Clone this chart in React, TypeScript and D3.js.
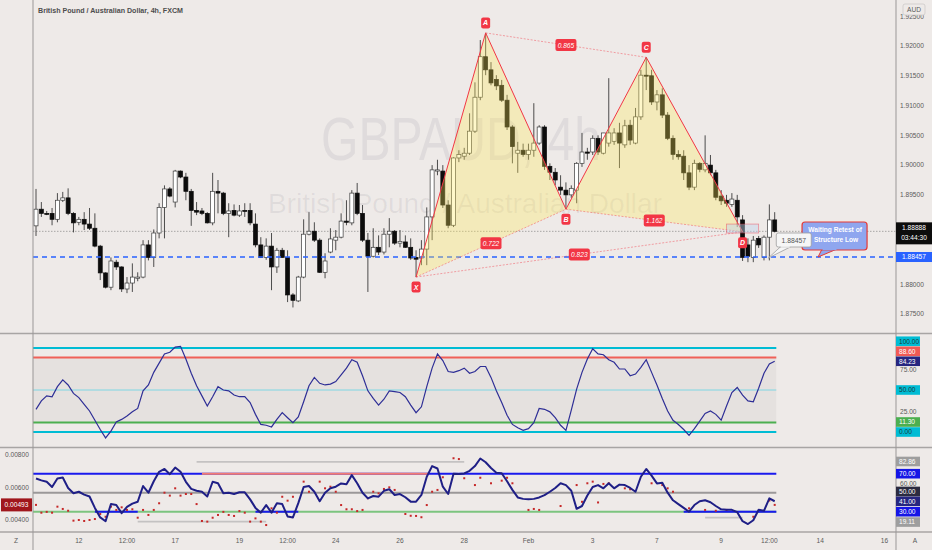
import React from "react";
import * as d3 from "d3";

const opens = [1.8898,1.8926,1.8919,1.8919,1.8909,1.8941,1.8945,1.8919,1.8904,1.8909,1.8901,1.8894,1.8864,1.8819,1.8795,1.8837,1.8829,1.8792,1.8802,1.8810,1.8812,1.8866,1.8845,1.8886,1.8929,1.8960,1.8938,1.8990,1.8980,1.8956,1.8924,1.8923,1.8919,1.8903,1.8956,1.8953,1.8919,1.8924,1.8916,1.8924,1.8924,1.8901,1.8866,1.8845,1.8864,1.8829,1.8857,1.8845,1.8782,1.8772,1.8812,1.8884,1.8889,1.8874,1.8820,1.8854,1.8874,1.8879,1.8906,1.8903,1.8953,1.8919,1.8874,1.8847,1.8862,1.8854,1.8884,1.8889,1.8869,1.8871,1.8862,1.8845,1.8844,1.8859,1.8913,1.8990,1.8990,1.8933,1.8899,1.9012,1.9015,1.9020,1.9057,1.9114,1.9182,1.9160,1.9144,1.9134,1.9109,1.9064,1.9020,1.9025,1.9018,1.9025,1.9037,1.9064,1.8998,1.8988,1.8963,1.8958,1.8950,1.8958,1.9003,1.9022,1.9022,1.9045,1.9020,1.9037,1.9040,1.9054,1.9034,1.9067,1.9037,1.9081,1.9151,1.9150,1.9106,1.9118,1.9084,1.9045,1.9018,1.9015,1.8987,1.8963,1.9003,1.8992,1.9000,1.8987,1.8948,1.8941,1.8934,1.8941,1.8908,1.8866,1.8845,1.8877,1.8845,1.8879,1.8908];
const highs = [1.8960,1.8938,1.8923,1.8928,1.8953,1.8955,1.8961,1.8921,1.8913,1.8921,1.8928,1.8919,1.8866,1.8820,1.8845,1.8841,1.8830,1.8812,1.8835,1.8820,1.8874,1.8874,1.8892,1.8936,1.8966,1.8963,1.8992,1.8991,1.8987,1.8960,1.8938,1.8928,1.8921,1.8987,1.8975,1.8955,1.8936,1.8934,1.8933,1.8936,1.8936,1.8919,1.8879,1.8877,1.8886,1.8861,1.8861,1.8857,1.8785,1.8814,1.8909,1.8921,1.8904,1.8877,1.8852,1.8894,1.8891,1.8919,1.8941,1.8958,1.8970,1.8933,1.8886,1.8894,1.8882,1.8894,1.8911,1.8891,1.8891,1.8882,1.8877,1.8857,1.8874,1.8929,1.9000,1.9009,1.9000,1.8941,1.9013,1.9025,1.9029,1.9087,1.9139,1.9210,1.9222,1.9173,1.9151,1.9143,1.9118,1.9067,1.9039,1.9036,1.9036,1.9104,1.9067,1.9067,1.9003,1.8995,1.8983,1.8971,1.8966,1.9005,1.9054,1.9029,1.9050,1.9050,1.9054,1.9146,1.9062,1.9071,1.9076,1.9076,1.9096,1.9160,1.9181,1.9160,1.9126,1.9129,1.9089,1.9050,1.9025,1.9025,1.9000,1.9009,1.9005,1.9050,1.9017,1.8992,1.8958,1.8950,1.8953,1.8950,1.8916,1.8877,1.8881,1.8881,1.8882,1.8934,1.8921];
const lows = [1.8881,1.8913,1.8916,1.8899,1.8904,1.8938,1.8916,1.8887,1.8899,1.8891,1.8891,1.8862,1.8807,1.8793,1.8790,1.8824,1.8787,1.8785,1.8787,1.8805,1.8810,1.8840,1.8829,1.8877,1.8877,1.8946,1.8929,1.8978,1.8941,1.8898,1.8916,1.8916,1.8902,1.8899,1.8919,1.8916,1.8879,1.8914,1.8913,1.8913,1.8899,1.8862,1.8844,1.8841,1.8790,1.8819,1.8844,1.8770,1.8761,1.8770,1.8810,1.8882,1.8871,1.8819,1.8810,1.8852,1.8857,1.8877,1.8899,1.8899,1.8916,1.8871,1.8787,1.8845,1.8849,1.8850,1.8862,1.8866,1.8862,1.8861,1.8841,1.8812,1.8832,1.8832,1.8874,1.8983,1.8928,1.8894,1.8896,1.9005,1.9009,1.9017,1.9054,1.9109,1.9151,1.9134,1.9126,1.9106,1.9059,1.9003,1.8987,1.9014,1.9009,1.9014,1.9034,1.8992,1.8975,1.8966,1.8950,1.8926,1.8945,1.8936,1.8997,1.9009,1.9017,1.9017,1.9018,1.9031,1.9034,1.8995,1.9029,1.9034,1.9035,1.9076,1.9126,1.9101,1.9092,1.9079,1.9042,1.9009,1.9009,1.8975,1.8958,1.8958,1.8988,1.8988,1.8983,1.8941,1.8933,1.8930,1.8930,1.8896,1.8839,1.8837,1.8837,1.8861,1.8840,1.8840,1.8887];
const closes = [1.8926,1.8919,1.8918,1.8909,1.8941,1.8945,1.8919,1.8903,1.8909,1.8901,1.8894,1.8864,1.8819,1.8795,1.8839,1.8829,1.8792,1.8802,1.8812,1.8812,1.8866,1.8845,1.8886,1.8929,1.8960,1.8948,1.8990,1.8980,1.8956,1.8924,1.8921,1.8919,1.8903,1.8956,1.8953,1.8919,1.8923,1.8916,1.8923,1.8923,1.8903,1.8866,1.8845,1.8864,1.8829,1.8857,1.8845,1.8782,1.8773,1.8812,1.8884,1.8889,1.8874,1.8820,1.8839,1.8876,1.8879,1.8906,1.8904,1.8953,1.8919,1.8874,1.8847,1.8862,1.8854,1.8884,1.8889,1.8869,1.8872,1.8862,1.8844,1.8842,1.8859,1.8913,1.8992,1.8992,1.8933,1.8899,1.9012,1.9018,1.9020,1.9057,1.9114,1.9182,1.9160,1.9138,1.9133,1.9109,1.9064,1.9031,1.9025,1.9018,1.9025,1.9037,1.9064,1.8998,1.8988,1.8975,1.8958,1.8950,1.8961,1.9003,1.9022,1.9020,1.9045,1.9022,1.9054,1.9054,1.9054,1.9037,1.9066,1.9042,1.9081,1.9151,1.9150,1.9106,1.9118,1.9084,1.9045,1.9018,1.9014,1.8987,1.8963,1.9003,1.8993,1.9003,1.8987,1.8946,1.8940,1.8936,1.8943,1.8913,1.8845,1.8847,1.8874,1.8866,1.8879,1.8908,1.88888];

const stochK = [27,37,43,42,54,62,56,46,41,33,25,14,3,-7,1,12,15,19,24,28,49,56,71,82,93,95,101,102,87,70,55,43,31,42,54,50,49,44,42,42,35,21,9,8,6,15,23,17,11,18,36,55,65,58,56,57,60,68,76,86,83,67,49,40,32,39,49,48,47,42,32,23,30,54,76,93,85,72,71,73,76,70,72,78,78,65,49,35,20,9,5,2,4,11,28,27,24,17,8,2,26,51,71,87,99,93,92,86,83,75,75,67,69,77,86,71,56,40,25,14,9,3,-4,4,13,22,25,21,14,31,47,53,44,37,36,52,70,81,84.23];

const rsiLine = [65,63,61.5,56,65,66,55,49.5,51,48,46,34,24,20,38,37,28.5,35,38.5,40.5,57,50,62,72,75,69.5,76.5,72,61.5,54,52,51,46,61.5,60,49.5,50,48.6,50.4,50.4,43,34,29,37,29,39,38,25,24,39,56,57,51,41,50,54.6,56.3,59.8,59,68.5,60,50,44,46.5,45.8,52,53.6,47.6,48.6,45.2,40.6,40.6,47.6,66.8,78,75.5,56.3,48.6,70,69.6,70.3,73,78,86,82,76,71,70.5,62,53,45,43.5,43,43.5,45,47.5,51,55,60,58,52,33,36,47,56,58,54.6,60,54.6,58.5,58,55,51,66.8,75,68,59.8,60.5,50,42,38,34,30,37,41,42,40,36,32.5,32,32,29.5,20,17,21,32,31,44,41];

const dotBars = [0,1,2,3,4,5,6,7,8,9,10,11,12,13,14,15,16,17,18,19,20,21,22,23,24,25,26,27,28,29,30,31,32,33,34,35,36,37,38,39,40,41,42,43,44,45,46,47,48,50,51,53,54,55,56,57,58,59,60,61,62,63,64,65,66,67,69,70,71,72,73,74,75,76,78,79,80,82,83,85,87,88,89,92,93,94,98,101,102,103,104,105,106,107,110,111,115,117,118,119,122,125,127,129,134,137,138];
const dotValues = [0.00493,0.00445,0.0045,0.00445,0.00482,0.00468,0.00457,0.00396,0.004,0.00394,0.004,0.00406,0.00437,0.0042,0.00482,0.00462,0.00478,0.00462,0.00466,0.00414,0.00462,0.00431,0.00462,0.00503,0.00568,0.0055,0.00595,0.0055,0.0056,0.0056,0.00498,0.00394,0.0039,0.00414,0.00431,0.0045,0.00431,0.00425,0.00455,0.00445,0.0039,0.0041,0.0039,0.00369,0.00472,0.00445,0.00543,0.00519,0.00543,0.00636,0.00574,0.00636,0.00595,0.00605,0.00574,0.00492,0.00466,0.00466,0.00455,0.00462,0.00534,0.00574,0.00564,0.00591,0.00601,0.00585,0.00437,0.00426,0.00425,0.00417,0.00492,0.00574,0.00585,0.00663,0.0078,0.00775,0.00657,0.00615,0.0066,0.00626,0.00642,0.0066,0.00626,0.00462,0.00468,0.00462,0.00486,0.00615,0.00512,0.00626,0.00636,0.00508,0.00622,0.00626,0.00595,0.00589,0.00626,0.00615,0.00595,0.00574,0.00472,0.00462,0.00457,0.00462,0.0042,0.0052,0.00493];

const priceTicks = [1.875,1.88,1.885,1.89,1.895,1.9,1.905,1.91,1.915,1.92,1.925];
const xTickBars = [8,17,26,38,47,56,68,80,92,104,116,128,137,146.5,158.5];
const xTickLabels = ["12","12:00","17","19","12:00","24","26","28","Feb","3","7","9","12:00","14","16"];

const patternNames = ["X","A","B","C","D"];
const patternBars = [71,84,99,114,132];
const patternPrices = [1.8812,1.9222,1.8926,1.9181,1.8888];
const ratioFrom = ["X","A","B","X"];
const ratioTo = ["B","C","D","D"];
const ratioLabels = ["0.722","0.865","1.162","0.823"];

const lastPrice = 1.88888;
const supportPrice = 1.88457;
const countdown = "03:44:30";
const zoneBars = [129,135];
const zonePrices = [1.8886,1.8901];
const noteBar = 146.1;
const priceNoteBar = 136.8;
const noteLines = ["Waiting Retest of","Structure Low"];

const stochLevelValues = [100,88.6,50,11.3,0];
const stochLevelColors = ["#00bcd4","#f06058","#7fd6e3","#4caf50","#00bcd4"];
const stochLevelWidths = [2,2,1,2,2];
const stochLast = 84.23;

const rsiUpper = 70, rsiMid = 50, rsiLower = 30, rsiLast = 41;
const rsiUpperSalmon = [31,73.4];
const rsiLowerBlue = [[11,19],[41,49],[121,138.3]];
const grayRangeVals = [82.5,19.6,23.8];
const grayRangeBars = [[30,80],[19,43],[125,132]];
const rsiMaxLabel = 82.86, rsiMinLabel = 19.11;
const dotTicks = [0.008,0.006,0.004];

const FONT = "Liberation Sans, Arial, sans-serif";

function resolveUp(items: any[], gap:number) {
  const s = [...items].sort((a,b)=>b.y-a.y);
  for (let i=1;i<s.length;i++) if (s[i].y > s[i-1].y - gap) s[i].y = s[i-1].y - gap;
  return s;
}

export default function App() {
  const W = 932, H = 550;
  const L = 33, R = 896;
  const x = d3.scaleLinear().domain([0,138]).range([36,774.7]);
  const yP = d3.scaleLinear().domain([1.875,1.92]).range([314,46]);
  const yS = d3.scaleLinear().domain([0,100]).range([432,348]);
  const yR = d3.scaleLinear().domain([30,70]).range([511.7,473.7]);
  const yD = d3.scaleLinear().domain([0.004,0.008]).range([520,455]);
  const xEnd = x(138.3);

  const pts: Record<string,[number,number]> = {};
  patternNames.forEach((n,i)=>{ pts[n] = [x(patternBars[i]), yP(patternPrices[i])]; });

  const stochPath = d3.line<number>().x((_,i)=>x(i)).y(d=>yS(d))(stochK) || "";
  const rsiPath = d3.line<number>().x((_,i)=>x(i)).y(d=>yR(d))(rsiLine) || "";

  const axisText = { fontFamily: FONT, fontSize: 6.6, fill: "#5a5a5a" } as const;

  const stochBoxes = resolveUp([
    { y: yS(100), bg: "#00bcd4", fg: "#1a3a40", t: "100.00" },
    { y: yS(88.6), bg: "#f05a55", fg: "#fff", t: "88.60" },
    { y: yS(stochLast), bg: "#262680", fg: "#fff", t: stochLast.toFixed(2) },
    { y: yS(50), bg: "#00bcd4", fg: "#1a3a40", t: "50.00" },
    { y: yS(11.3), bg: "#4caf50", fg: "#fff", t: "11.30" },
    { y: yS(0), bg: "#00bcd4", fg: "#1a3a40", t: "0.00" },
  ], 10);
  const rsiBoxes = resolveUp([
    { y: yR(rsiMaxLabel), bg: "#9e9e9e", fg: "#fff", t: rsiMaxLabel.toFixed(2) },
    { y: yR(rsiUpper), bg: "#1515e6", fg: "#fff", t: rsiUpper.toFixed(2) },
    { y: yR(rsiMid), bg: "#2b2b40", fg: "#fff", t: rsiMid.toFixed(2) },
    { y: yR(rsiLast), bg: "#262680", fg: "#fff", t: rsiLast.toFixed(2) },
    { y: yR(rsiLower), bg: "#1515e6", fg: "#fff", t: rsiLower.toFixed(2) },
    { y: yR(rsiMinLabel), bg: "#9e9e9e", fg: "#fff", t: rsiMinLabel.toFixed(2) },
  ], 9.8);

  const tri = (a:string,b:string,c:string) => `M${pts[a][0]},${pts[a][1]}L${pts[b][0]},${pts[b][1]}L${pts[c][0]},${pts[c][1]}Z`;

  const gx = x(priceNoteBar), gy = yP(supportPrice) + 1;
  const bx = x(noteBar), by = yP(supportPrice);

  const visiblePriceTicks = priceTicks.filter(t =>
    Math.abs(yP(t) - (yP(lastPrice)+2)) > 14 && Math.abs(yP(t) - yP(supportPrice)) > 8);

  return (
    <svg width={W} height={H} style={{ position: "absolute", left: 0, top: 0, display: "block" }} fontFamily={FONT}>
      <rect x={0} y={0} width={W} height={H} fill="#eeeae8" />

      {/* watermark */}
      <text x={461} y={160} textAnchor="middle" fontSize={62} fill="rgba(80,80,100,0.09)" textLength={280} lengthAdjust="spacingAndGlyphs">GBPAUD, 4h</text>
      <text x={465} y={213} textAnchor="middle" fontSize={28} fill="rgba(80,80,100,0.09)" textLength={394} lengthAdjust="spacingAndGlyphs">British Pound / Australian Dollar</text>

      {/* header */}
      <text x={38} y={13} fontSize={7.2} fontWeight="bold" fill="#4d4d4d" textLength={145} lengthAdjust="spacingAndGlyphs">British Pound / Australian Dollar, 4h, FXCM</text>

      <line x1={L} x2={R} y1={yP(lastPrice)} y2={yP(lastPrice)} stroke="#8a8a8a" strokeWidth={0.7} strokeDasharray="1.5,1.5" />

      {/* candles */}
      {closes.map((c,i)=>{
        const o = opens[i], up = c >= o;
        const top = yP(Math.max(o,c)), bot = yP(Math.min(o,c));
        return (
          <g key={i}>
            <line x1={x(i)} x2={x(i)} y1={yP(highs[i])} y2={yP(lows[i])} stroke="#3a3a3a" strokeWidth={0.9} />
            <rect x={x(i)-2} y={top} width={4} height={Math.max(1,bot-top)} fill={up ? "#ffffff" : "#0c0c0c"} stroke={up ? "#3a3a3a" : "#0c0c0c"} strokeWidth={0.7} />
          </g>
        );
      })}

      <line x1={L} x2={R} y1={yP(supportPrice)} y2={yP(supportPrice)} stroke="#2962ff" strokeWidth={1.5} strokeDasharray="5,4" />

      {/* harmonic pattern */}
      <path d={tri("X","A","B")} fill="rgba(255,232,90,0.32)" />
      <path d={tri("B","C","D")} fill="rgba(255,232,90,0.32)" />
      {ratioFrom.map((f,i)=>(
        <line key={"dl"+i} x1={pts[f][0]} y1={pts[f][1]} x2={pts[ratioTo[i]][0]} y2={pts[ratioTo[i]][1]} stroke="rgba(242,54,69,0.55)" strokeWidth={0.8} strokeDasharray="2,1.5" />
      ))}
      {[["X","A"],["A","B"],["B","C"],["C","D"]].map(([a,b],i)=>(
        <line key={"sl"+i} x1={pts[a][0]} y1={pts[a][1]} x2={pts[b][0]} y2={pts[b][1]} stroke="#f23645" strokeWidth={1} />
      ))}
      <rect x={x(zoneBars[0])} y={yP(zonePrices[1])} width={x(zoneBars[1])-x(zoneBars[0])} height={yP(zonePrices[0])-yP(zonePrices[1])} fill="rgba(190,210,235,0.45)" stroke="rgba(242,54,69,0.5)" strokeWidth={0.8} />
      {ratioFrom.map((f,i)=>{
        const mx = (pts[f][0]+pts[ratioTo[i]][0])/2, my = (pts[f][1]+pts[ratioTo[i]][1])/2;
        return (
          <g key={"rl"+i}>
            <rect x={mx-10.5} y={my-6} width={21} height={12} rx={2} fill="#f23645" />
            <text x={mx} y={my+2.4} textAnchor="middle" fontSize={6.6} fontStyle="italic" fill="#fff">{ratioLabels[i]}</text>
          </g>
        );
      })}
      {patternNames.map((n,i)=>{
        const [px,py] = pts[n];
        const above = n === "A" || n === "C";
        const cy = above ? py - 10 : py + (n === "D" ? 11 : 10);
        return (
          <g key={"pl"+n}>
            <rect x={px-4.5} y={cy-5.5} width={9} height={11} rx={2} fill="#f23645" />
            <text x={px} y={cy+2.5} textAnchor="middle" fontSize={7} fontStyle="italic" fontWeight="bold" fill="#fff">{n}</text>
          </g>
        );
      })}

      {/* callout: waiting retest */}
      <path d={`M${bx+4},${by-8}L${bx+19},${by-8}L${bx},${by}Z`} fill="#8fa6ef" stroke="#e53935" strokeWidth={1} />
      <rect x={bx-16} y={by-35} width={65} height={28} rx={3} fill="#8fa6ef" stroke="#e53935" strokeWidth={1.2} />
      <path d={`M${bx+4.6},${by-7.6}L${bx+18.4},${by-7.6}`} stroke="#8fa6ef" strokeWidth={1.6} />
      <text x={bx+17} y={by-25} textAnchor="middle" fontSize={6.6} fontWeight="bold" fill="#fff">{noteLines[0]}</text>
      <text x={bx+18} y={by-15} textAnchor="middle" fontSize={6.6} fontWeight="bold" fill="#fff">{noteLines[1]}</text>

      {/* callout: price */}
      <path d={`M${gx+12},${gy-11}L${gx+22},${gy-11}L${gx},${gy}Z`} fill="#f6f6f6" stroke="#9e9e9e" strokeWidth={0.8} />
      <rect x={gx+8} y={gy-25} width={35} height={14} rx={2} fill="#f6f6f6" stroke="#9e9e9e" strokeWidth={0.8} />
      <path d={`M${gx+12.5},${gy-11}L${gx+21.5},${gy-11}`} stroke="#f6f6f6" strokeWidth={1.4} />
      <text x={gx+25.5} y={gy-15.5} textAnchor="middle" fontSize={6.8} fill="#555">{supportPrice.toFixed(5)}</text>

      {/* oscillator pane */}
      <rect x={L} y={yS(88.6)} width={xEnd-L} height={yS(11.3)-yS(88.6)} fill="rgba(0,0,0,0.035)" />
      {stochLevelValues.map((v,i)=>(
        <line key={"lv"+v} x1={L} x2={xEnd} y1={yS(v)} y2={yS(v)} stroke={stochLevelColors[i]} strokeWidth={stochLevelWidths[i]} />
      ))}
      <path d={stochPath} fill="none" stroke="#2e2e96" strokeWidth={1.2} />

      {/* bottom pane */}
      {grayRangeVals.map((v,i)=>(
        <line key={"gr"+i} x1={x(grayRangeBars[i][0])} x2={x(grayRangeBars[i][1])} y1={yR(v)} y2={yR(v)} stroke="#c4c2c2" strokeWidth={1.6} />
      ))}
      <line x1={L} x2={xEnd} y1={yR(rsiUpper)} y2={yR(rsiUpper)} stroke="#1a1aee" strokeWidth={2} />
      <line x1={x(rsiUpperSalmon[0])} x2={x(rsiUpperSalmon[1])} y1={yR(rsiUpper)} y2={yR(rsiUpper)} stroke="#f27c74" strokeWidth={2} />
      <line x1={L} x2={xEnd} y1={yR(rsiMid)} y2={yR(rsiMid)} stroke="#9b9899" strokeWidth={2} />
      <line x1={L} x2={xEnd} y1={yR(rsiLower)} y2={yR(rsiLower)} stroke="#7cc47f" strokeWidth={2} />
      {rsiLowerBlue.map((s,i)=>(
        <line key={"lb"+i} x1={x(s[0])} x2={x(s[1])} y1={yR(rsiLower)} y2={yR(rsiLower)} stroke="#1a1aee" strokeWidth={2} />
      ))}
      {dotBars.map((b,i)=>(
        <rect key={"d"+i} x={x(b)-1} y={yD(dotValues[i])-1} width={2} height={2} fill="#c62828" />
      ))}
      <path d={rsiPath} fill="none" stroke="#1f1f86" strokeWidth={2} strokeLinejoin="round" />

      {/* pane separators and axis lines */}
      <line x1={0} x2={W} y1={333.5} y2={333.5} stroke="#a8a5a4" strokeWidth={1.5} />
      <line x1={0} x2={W} y1={447.5} y2={447.5} stroke="#a8a5a4" strokeWidth={1.5} />
      <line x1={0} x2={W} y1={532} y2={532} stroke="#a8a5a4" strokeWidth={1.5} />
      <line x1={L} x2={L} y1={0} y2={H} stroke="#9a9797" strokeWidth={1} />
      <line x1={R} x2={R} y1={0} y2={H} stroke="#9a9797" strokeWidth={1} />

      {/* right price axis */}
      {visiblePriceTicks.map(t=>(
        <text key={"pt"+t} x={900} y={yP(t)+2.3} {...axisText}>{t.toFixed(5)}</text>
      ))}
      <rect x={903} y={4} width={22} height={11} rx={2} fill="#eeeae8" stroke="#c8c5c4" strokeWidth={0.7} />
      <text x={914} y={12} textAnchor="middle" {...axisText}>AUD</text>
      <rect x={R} y={yP(lastPrice)-9} width={W-R} height={22} fill="#0d0d0d" />
      <text x={914} y={yP(lastPrice)-1} textAnchor="middle" fontSize={6.6} fill="#fff">{lastPrice.toFixed(5)}</text>
      <text x={914} y={yP(lastPrice)+9} textAnchor="middle" fontSize={6.6} fill="#fff">{countdown}</text>
      <rect x={R} y={yP(supportPrice)-5} width={W-R} height={10} fill="#2962ff" />
      <text x={914} y={yP(supportPrice)+2.3} textAnchor="middle" fontSize={6.6} fill="#fff">{supportPrice.toFixed(5)}</text>

      {/* stoch axis */}
      {[75,25].map(v=>(
        <text key={"st"+v} x={900} y={yS(v)+3} {...axisText}>{v.toFixed(2)}</text>
      ))}
      {stochBoxes.map((b,i)=>(
        <g key={"sb"+i}>
          <rect x={R} y={b.y-4.8} width={24} height={9.6} fill={b.bg} />
          <text x={R+3} y={b.y+2.3} fontSize={6.6} fill={b.fg}>{b.t}</text>
        </g>
      ))}

      {/* rsi axis */}
      <text x={900} y={yR(60)+2.3} {...axisText}>60.00</text>
      {rsiBoxes.map((b,i)=>(
        <g key={"rb"+i}>
          <rect x={R} y={b.y-4.8} width={24} height={9.6} fill={b.bg} />
          <text x={R+3} y={b.y+2.3} fontSize={6.6} fill={b.fg}>{b.t}</text>
        </g>
      ))}

      {/* left axis for dots */}
      {dotTicks.map(t=>(
        <text key={"dt"+t} x={5} y={yD(t)+2.3} {...axisText}>{t.toFixed(5)}</text>
      ))}
      <rect x={1} y={yD(dotValues[dotValues.length-1])-6.5} width={31} height={13} fill="#a0161c" />
      <text x={16.5} y={yD(dotValues[dotValues.length-1])+2.3} textAnchor="middle" fontSize={6.6} fill="#fff">{dotValues[dotValues.length-1].toFixed(5)}</text>

      {/* time axis */}
      {xTickBars.map((b,i)=>(
        <text key={"xt"+i} x={x(b)} y={543} textAnchor="middle" {...axisText}>{xTickLabels[i]}</text>
      ))}
      <text x={16} y={543} textAnchor="middle" {...axisText}>Z</text>
      <text x={915} y={543} textAnchor="middle" {...axisText}>A</text>
    </svg>
  );
}
